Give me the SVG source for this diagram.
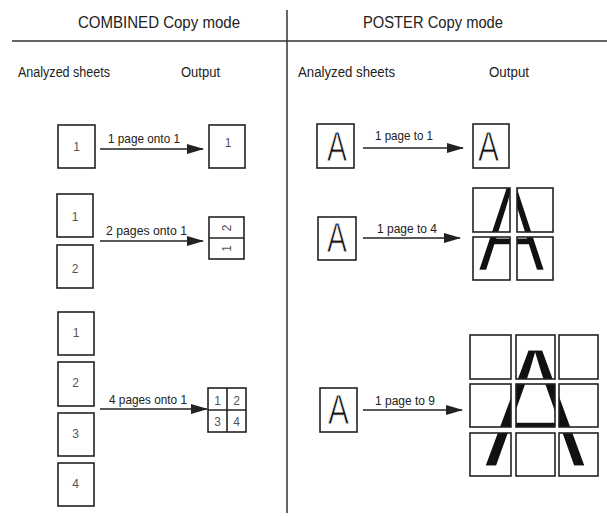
<svg xmlns="http://www.w3.org/2000/svg" width="607" height="516" viewBox="0 0 607 516">
<style>
  text { font-family: "Liberation Sans", Arial, sans-serif; }
  .hdr { font-size: 16px; fill: #222; }
  .sub { font-size: 14px; fill: #222; }
  .lbl { font-size: 13px; fill: #222; }
  .num { font-size: 12px; fill: #555; text-anchor: middle; }
  .sheet { fill: #fff; stroke: #222; stroke-width: 1.6; }
  .tile { fill: none; stroke: #222; stroke-width: 1.6; }
  .rule { stroke: #333; stroke-width: 1.5; fill: none; }
  .arrow { stroke: #222; stroke-width: 1.6; fill: none; marker-end: url(#ah); }
  .bigA { fill: #111; stroke: #fff; }
  .smallA { font-size: 42px; fill: #111; stroke: #fff; stroke-width: 0.9; }
</style>
<defs>
  <marker id="ah" markerUnits="userSpaceOnUse" markerWidth="17" markerHeight="10" viewBox="0 0 17 10" refX="16" refY="5" orient="auto">
    <path d="M0,0 L17,5 L0,10 z" fill="#222"/>
  </marker>
  <clipPath id="clip4">
    <rect x="473" y="188" width="37" height="44"/>
    <rect x="517" y="188" width="36" height="44"/>
    <rect x="473" y="237" width="37" height="43"/>
    <rect x="517" y="237" width="36" height="43"/>
  </clipPath>
  <clipPath id="clip9">
    <rect x="470" y="335" width="41" height="44"/>
    <rect x="516" y="335" width="39" height="44"/>
    <rect x="559" y="335" width="39" height="44"/>
    <rect x="470" y="384" width="41" height="43"/>
    <rect x="516" y="384" width="39" height="43"/>
    <rect x="559" y="384" width="39" height="43"/>
    <rect x="470" y="433" width="41" height="43"/>
    <rect x="516" y="433" width="39" height="43"/>
    <rect x="559" y="433" width="39" height="43"/>
  </clipPath>
</defs>

<g id="headers">
  <text class="hdr" x="78" y="28" textLength="162" lengthAdjust="spacingAndGlyphs">COMBINED Copy mode</text>
  <text class="hdr" x="363" y="28" textLength="140" lengthAdjust="spacingAndGlyphs">POSTER Copy mode</text>
  <text class="sub" x="18" y="77" textLength="92" lengthAdjust="spacingAndGlyphs">Analyzed sheets</text>
  <text class="sub" x="181" y="77" textLength="39" lengthAdjust="spacingAndGlyphs">Output</text>
  <text class="sub" x="298" y="77" textLength="97" lengthAdjust="spacingAndGlyphs">Analyzed sheets</text>
  <text class="sub" x="489" y="77" textLength="40" lengthAdjust="spacingAndGlyphs">Output</text>
</g>

<g id="rules">
  <line class="rule" x1="12" y1="41" x2="607" y2="41"/>
  <line class="rule" x1="287" y1="10" x2="287" y2="513"/>
</g>

<!-- COMBINED: row 1 -->
<g id="c1-sheet1">
  <rect class="sheet" x="58" y="125" width="37" height="43"/>
  <text class="num" x="76.5" y="151">1</text>
</g>
<g id="c1-output">
  <rect class="sheet" x="209" y="125" width="36" height="43"/>
  <text class="num" x="228" y="147">1</text>
</g>

<!-- COMBINED: row 2 -->
<g id="c2-sheet1">
  <rect class="sheet" x="57" y="194" width="36" height="43"/>
  <text class="num" x="75" y="221">1</text>
</g>
<g id="c2-sheet2">
  <rect class="sheet" x="57" y="245" width="36" height="43"/>
  <text class="num" x="75" y="273">2</text>
</g>
<g id="c2-output">
  <rect class="sheet" x="209" y="217" width="35" height="42"/>
  <line class="tile" x1="209" y1="238" x2="244" y2="238"/>
  <text class="num" transform="translate(230.5,228) rotate(-90)" x="0" y="0">2</text>
  <text class="num" transform="translate(230.5,248.5) rotate(-90)" x="0" y="0">1</text>
</g>

<!-- COMBINED: row 3 -->
<g id="c3-sheet1">
  <rect class="sheet" x="58" y="312" width="36" height="43"/>
  <text class="num" x="76" y="337">1</text>
</g>
<g id="c3-sheet2">
  <rect class="sheet" x="58" y="362" width="36" height="44"/>
  <text class="num" x="75.5" y="387">2</text>
</g>
<g id="c3-sheet3">
  <rect class="sheet" x="58" y="413" width="36" height="43"/>
  <text class="num" x="75.5" y="438">3</text>
</g>
<g id="c3-sheet4">
  <rect class="sheet" x="58" y="463" width="36" height="43"/>
  <text class="num" x="75.5" y="488">4</text>
</g>
<g id="c3-output">
  <rect class="sheet" x="208" y="388" width="38" height="44"/>
  <line class="tile" x1="227" y1="388" x2="227" y2="432"/>
  <line class="tile" x1="208" y1="410" x2="246" y2="410"/>
  <text class="num" x="217.5" y="405">1</text>
  <text class="num" x="236.5" y="405">2</text>
  <text class="num" x="217.5" y="426">3</text>
  <text class="num" x="236.5" y="426">4</text>
</g>

<!-- POSTER: row 1 -->
<g id="p1-sheet">
  <rect class="sheet" x="317" y="124" width="37" height="44"/>
  <text class="smallA" x="327" y="161" textLength="20" lengthAdjust="spacingAndGlyphs">A</text>
</g>
<g id="p1-output">
  <rect class="sheet" x="473" y="124" width="36" height="44"/>
  <text class="smallA" x="478" y="161" textLength="21" lengthAdjust="spacingAndGlyphs">A</text>
</g>

<!-- POSTER: row 2 -->
<g id="p2-sheet">
  <rect class="sheet" x="318" y="217" width="38" height="43"/>
  <text class="smallA" x="327" y="252" textLength="20" lengthAdjust="spacingAndGlyphs">A</text>
</g>
<g id="p2-output">
  <g clip-path="url(#clip4)">
    <text class="bigA" x="477" y="271" font-size="126" textLength="69" lengthAdjust="spacingAndGlyphs" stroke-width="3.5">A</text>
  </g>
  <rect class="tile" x="473" y="188" width="37" height="44"/>
  <rect class="tile" x="517" y="188" width="36" height="44"/>
  <rect class="tile" x="473" y="237" width="37" height="43"/>
  <rect class="tile" x="517" y="237" width="36" height="43"/>
</g>

<!-- POSTER: row 3 -->
<g id="p3-sheet">
  <rect class="sheet" x="320" y="388" width="37" height="44"/>
  <text class="smallA" x="328" y="424" textLength="21" lengthAdjust="spacingAndGlyphs">A</text>
</g>
<g id="p3-output">
  <g clip-path="url(#clip9)">
    <text class="bigA" x="482" y="468" font-size="175" textLength="106" lengthAdjust="spacingAndGlyphs" stroke-width="5">A</text>
  </g>
  <rect class="tile" x="470" y="335" width="41" height="44"/>
  <rect class="tile" x="516" y="335" width="39" height="44"/>
  <rect class="tile" x="559" y="335" width="39" height="44"/>
  <rect class="tile" x="470" y="384" width="41" height="43"/>
  <rect class="tile" x="516" y="384" width="39" height="43"/>
  <rect class="tile" x="559" y="384" width="39" height="43"/>
  <rect class="tile" x="470" y="433" width="41" height="43"/>
  <rect class="tile" x="516" y="433" width="39" height="43"/>
  <rect class="tile" x="559" y="433" width="39" height="43"/>
</g>

<g id="connectors">
  <line class="arrow" x1="100" y1="149" x2="203" y2="149"/>
  <text class="lbl" x="108" y="143" textLength="72" lengthAdjust="spacingAndGlyphs">1 page onto 1</text>
  <line class="arrow" x1="100" y1="241" x2="203" y2="241"/>
  <text class="lbl" x="106" y="235" textLength="81" lengthAdjust="spacingAndGlyphs">2 pages onto 1</text>
  <line class="arrow" x1="100" y1="409" x2="207" y2="409"/>
  <text class="lbl" x="109" y="404" textLength="78" lengthAdjust="spacingAndGlyphs">4 pages onto 1</text>
  <line class="arrow" x1="363" y1="148" x2="463" y2="148"/>
  <text class="lbl" x="375" y="140" textLength="58" lengthAdjust="spacingAndGlyphs">1 page to 1</text>
  <line class="arrow" x1="363" y1="238" x2="460" y2="238"/>
  <text class="lbl" x="377" y="233" textLength="60" lengthAdjust="spacingAndGlyphs">1 page to 4</text>
  <line class="arrow" x1="363" y1="410" x2="462" y2="410"/>
  <text class="lbl" x="375" y="405" textLength="60" lengthAdjust="spacingAndGlyphs">1 page to 9</text>
</g>
</svg>
